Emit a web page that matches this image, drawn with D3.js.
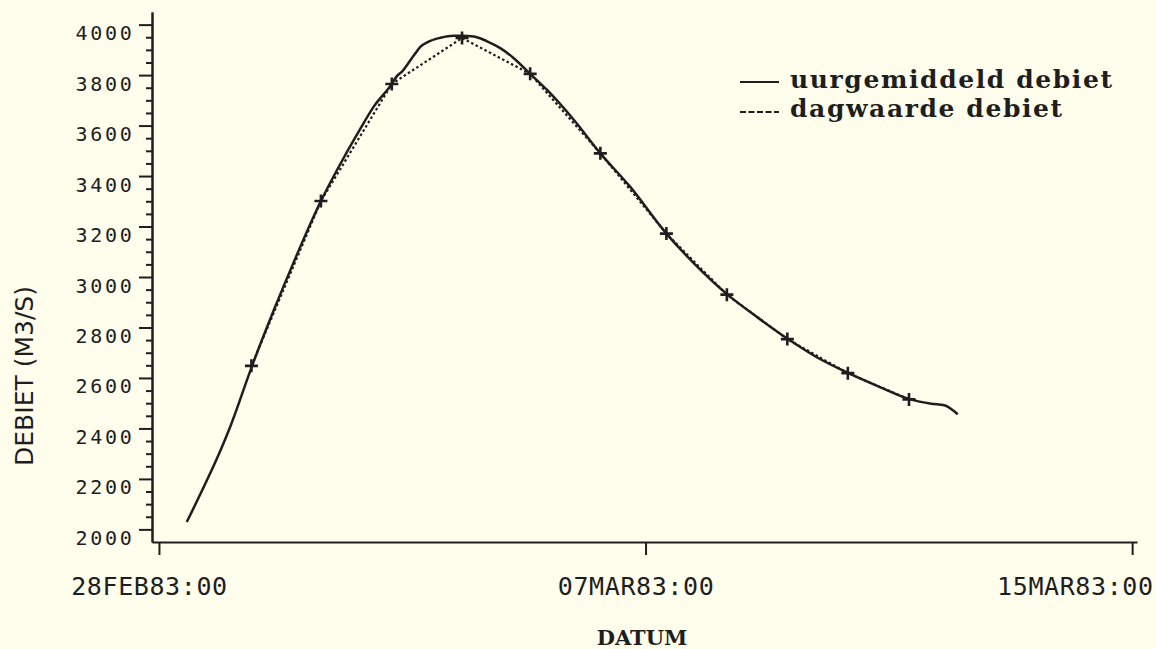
<!DOCTYPE html>
<html lang="nl">
<head>
<meta charset="utf-8" />
<script src="https://d3js.org/d3.v7.min.js"></script>
<style>
  body { margin: 0; background: #fffdec; }
  svg { display: block; }
  .axis path, .axis line { stroke: #1e1e1e; stroke-width: 2; }
</style>
<title>Debiet</title>
</head>
<body>
<svg id="chart" width="1156" height="649"></svg>
<script>
// uurgemiddeld debiet (dagen na 28FEB83:00)
const uurDag = [0.40, 0.74, 0.88, 1.02, 1.34, 1.65, 1.93, 2.33, 2.56, 2.90, 3.09, 3.35,
  3.42, 3.50, 3.60, 3.66, 3.71, 3.76, 3.86, 4.05, 4.24, 4.36, 4.53, 4.72, 4.91,
  5.10, 5.34, 5.58, 5.97, 6.35, 6.78, 7.30, 7.70, 8.18, 8.61, 9.05, 9.47, 9.92,
  10.39, 10.80, 11.11, 11.30, 11.49];
const uurDebiet = [2029, 2224, 2310, 2403, 2648, 2867, 3053, 3301, 3423, 3589, 3675, 3765,
  3795, 3815, 3852, 3876, 3894, 3912, 3930, 3948, 3956, 3956, 3953, 3934, 3907,
  3868, 3805, 3742, 3622, 3490, 3357, 3172, 3053, 2930, 2840, 2754, 2681, 2619,
  2562, 2516, 2498, 2492, 2456];

// dagwaarde debiet
const dagDag = [1.33, 2.33, 3.35, 4.36, 5.34, 6.35, 7.30, 8.17, 9.04, 9.91, 10.79];
const dagDebiet = [2648, 3301, 3765, 3947, 3805, 3490, 3172, 2930, 2754, 2619, 2515];

const xTicks = [0, 7, 14];
const xTickLabels = ["28FEB83:00", "07MAR83:00", "15MAR83:00"];
const yTicks = [2000, 2200, 2400, 2600, 2800, 3000, 3200, 3400, 3600, 3800, 4000];
const legendLabels = ["uurgemiddeld debiet", "dagwaarde debiet"];

const ink = "#1e1e1e";
const svg = d3.select("#chart");

const x = d3.scaleLinear().domain([-0.1, 14.07]).range([152, 1137]);
const y = d3.scaleLinear().domain([1950, 4050]).range([542, 12]);

const yMinor = d3.range(2050, 4000, 50).filter(v => v % 200 !== 0);

// y-as
svg.append("g")
  .attr("class", "axis")
  .attr("transform", "translate(152,0)")
  .call(d3.axisLeft(y).tickValues(yMinor).tickSize(6).tickSizeOuter(0).tickFormat(""));

const yAxis = svg.append("g")
  .attr("class", "axis")
  .attr("transform", "translate(152,0)")
  .call(d3.axisLeft(y).tickValues(yTicks).tickSize(13).tickSizeOuter(0).tickFormat(d3.format("d")));

yAxis.selectAll("text")
  .attr("x", -17.5)
  .attr("dy", 15)
  .attr("fill", ink)
  .style("font-family", "'DejaVu Sans Mono', monospace")
  .style("font-size", "20px")
  .style("letter-spacing", "2.7px");

// x-as
const xAxis = svg.append("g")
  .attr("class", "axis")
  .attr("transform", "translate(0,542)")
  .call(d3.axisBottom(x).tickValues(xTicks).tickSize(13).tickSizeOuter(0)
    .tickFormat((d, i) => xTickLabels[i]));

xAxis.selectAll("text")
  .attr("y", 53)
  .attr("dy", 0)
  .attr("fill", ink)
  .style("font-family", "'DejaVu Sans Mono', monospace")
  .style("font-size", "25px")
  .style("letter-spacing", "0.6px")
  .attr("dx", (d, i) => i < 2 ? -10 : 0)
  .attr("x", (d, i) => i < 2 ? 0 : 21)
  .attr("text-anchor", (d, i) => i < 2 ? "middle" : "end");

svg.selectAll(".axis .domain").attr("stroke", ink);
svg.selectAll(".axis line").attr("stroke", ink);

// as-titels
svg.append("text")
  .attr("transform", "translate(33,376) rotate(-90)")
  .attr("text-anchor", "middle")
  .attr("fill", ink)
  .style("font-family", "'DejaVu Sans', sans-serif")
  .style("font-size", "25px")
  .text("DEBIET (M3/S)");

svg.append("text")
  .attr("x", 642)
  .attr("y", 645)
  .attr("text-anchor", "middle")
  .attr("fill", ink)
  .style("font-family", "'DejaVu Serif', serif")
  .style("font-weight", "bold")
  .style("font-size", "21px")
  .text("DATUM");

// lijnen
const uurData = d3.zip(uurDag, uurDebiet);
const dagData = d3.zip(dagDag, dagDebiet);

svg.append("path")
  .datum(dagData)
  .attr("fill", "none")
  .attr("stroke", ink)
  .attr("stroke-width", 2.2)
  .attr("stroke-dasharray", "2.5,2.5")
  .attr("d", d3.line().x(d => x(d[0])).y(d => y(d[1])));

svg.append("path")
  .datum(uurData)
  .attr("fill", "none")
  .attr("stroke", ink)
  .attr("stroke-width", 2.5)
  .attr("stroke-linejoin", "round")
  .attr("d", d3.line().x(d => x(d[0])).y(d => y(d[1])).curve(d3.curveMonotoneX));

svg.selectAll("path.plus")
  .data(dagData)
  .join("path")
  .attr("class", "plus")
  .attr("transform", d => `translate(${x(d[0])},${y(d[1])})`)
  .attr("d", "M-6.5,0H6.5M0,-6.5V6.5")
  .attr("stroke", ink)
  .attr("stroke-width", 2.6);

// legenda
const legend = svg.append("g").attr("transform", "translate(740,0)");
legend.selectAll("line")
  .data(legendLabels)
  .join("line")
  .attr("x1", 0)
  .attr("x2", 39)
  .attr("y1", (d, i) => 82 + i * 30)
  .attr("y2", (d, i) => 82 + i * 30)
  .attr("stroke", ink)
  .attr("stroke-width", 2)
  .attr("stroke-dasharray", (d, i) => i === 0 ? null : "6,2.5");

legend.selectAll("text")
  .data(legendLabels)
  .join("text")
  .attr("x", 50)
  .attr("y", (d, i) => 88 + i * 28.5)
  .attr("fill", ink)
  .style("font-family", "'DejaVu Serif', serif")
  .style("font-weight", "bold")
  .style("font-size", "25px")
  .style("letter-spacing", "1.6px")
  .text(d => d);
</script>
</body>
</html>
